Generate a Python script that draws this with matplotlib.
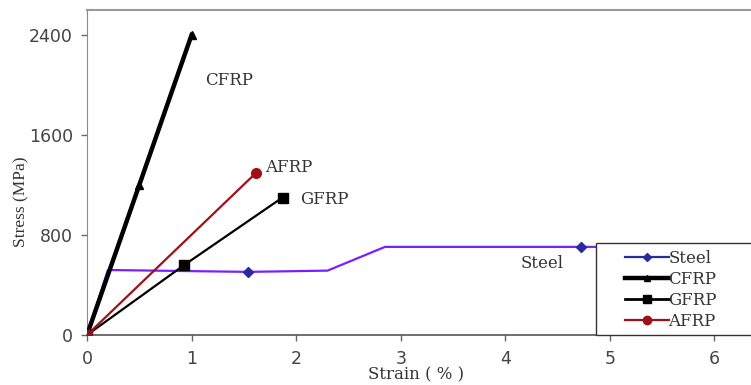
import matplotlib
matplotlib.use("Agg")
import matplotlib.pyplot as plt
from matplotlib.lines import Line2D
from matplotlib.patches import Rectangle

# Data (strain %, stress MPa)
steel_x = [0, 0.2, 1.54, 2.3, 2.85, 4.72, 5.0]
steel_y = [0, 520, 505, 515, 705, 705, 705]
cfrp_x = [0, 0.5, 1.0]
cfrp_y = [0, 1200, 2400]
gfrp_x = [0, 0.93, 1.87]
gfrp_y = [0, 560, 1100]
afrp_x = [0, 1.62]
afrp_y = [0, 1300]

x_ticks = [0, 1, 2, 3, 4, 5, 6]
y_ticks = [0, 800, 1600, 2400]

series_names = ["Steel", "CFRP", "GFRP", "AFRP"]
labels = [("CFRP", 1.13, 2000), ("AFRP", 1.70, 1305), ("GFRP", 2.04, 1050), ("Steel", 4.15, 540)]

serif_wide = ["DejaVu Serif"]
serif = ["Liberation Serif", "DejaVu Serif"]
sans = ["DejaVu Sans"]

steel_line = "#7a1fff"
steel_mark = "#2a2aa0"
afrp_col = "#a01018"

fig = plt.figure(figsize=(7.51, 3.85), dpi=100)
ax = fig.add_axes([87/751, 50/385, 1 - 87/751, 325/385])

ax.plot(steel_x, steel_y, color=steel_line, lw=1.6, marker="D", ms=5,
        mfc=steel_mark, mec=steel_mark, markevery=[0, 2, 5], zorder=3)
ax.plot(cfrp_x, cfrp_y, color="black", lw=3.2, marker="^", ms=6,
        markevery=[1, 2], zorder=4)
ax.plot(gfrp_x, gfrp_y, color="black", lw=1.6, marker="s", ms=7,
        markevery=[1, 2], zorder=4)
ax.plot(afrp_x, afrp_y, color=afrp_col, lw=1.6, marker="o", ms=7,
        markevery=[1], zorder=4)
ax.plot([0], [0], marker="s", ms=7, color="#8a1020", zorder=5, ls="none")

for txt, x, y in labels:
    ax.text(x, y, txt, family=serif_wide, fontsize=12, color="#333333", va="baseline")

ax.set_xlim(0, 6.35)
ax.set_ylim(0, 2600)
ax.set_xticks(x_ticks)
ax.set_yticks(y_ticks)
ax.tick_params(axis="both", colors="#666666", labelcolor="#444444", labelsize=12.5,
               direction="out", length=4, width=1)
for lbl in ax.get_xticklabels() + ax.get_yticklabels():
    lbl.set_family(sans)
ax.tick_params(axis="x", pad=7)
ax.tick_params(axis="y", pad=6)

ax.spines["right"].set_visible(False)
ax.spines["top"].set_color("#999999")
ax.spines["top"].set_linewidth(1.5)
ax.spines["left"].set_color("#888888")
ax.spines["bottom"].set_color("#555555")
ax.spines["bottom"].set_linewidth(1.2)

ax.set_xlabel("Strain ( % )", family=serif_wide, fontsize=12, color="#333333")
ax.set_ylabel("Stress (MPa)", family=serif, fontsize=12.5, color="#333333")
ax.xaxis.set_label_coords(0.495, -0.098)
ax.yaxis.set_label_coords(-0.087, 0.41)

# legend box (extends past the right edge, as in the reference)
box = Rectangle((0.7666, 0.0), 0.4, 0.283, transform=ax.transAxes, clip_on=False,
                facecolor="white", edgecolor="#333333", lw=1.0, zorder=8)
ax.add_patch(box)

handles = [
    Line2D([], [], color=steel_mark, lw=1.6, marker="D", ms=4.5),
    Line2D([], [], color="black", lw=3.2, marker="^", ms=5),
    Line2D([], [], color="black", lw=2.0, marker="s", ms=6),
    Line2D([], [], color=afrp_col, lw=1.6, marker="o", ms=6),
]
leg = ax.legend(handles, series_names, loc="upper left", bbox_to_anchor=(0.8105, 0.263),
                frameon=False, prop={"family": serif_wide, "size": 12},
                handlelength=2.6, handletextpad=0.0, labelspacing=0.24,
                borderpad=0, borderaxespad=0)
leg.set_zorder(10)
for t in leg.get_texts():
    t.set_color("#333333")

fig.savefig("out.png", dpi=100)
